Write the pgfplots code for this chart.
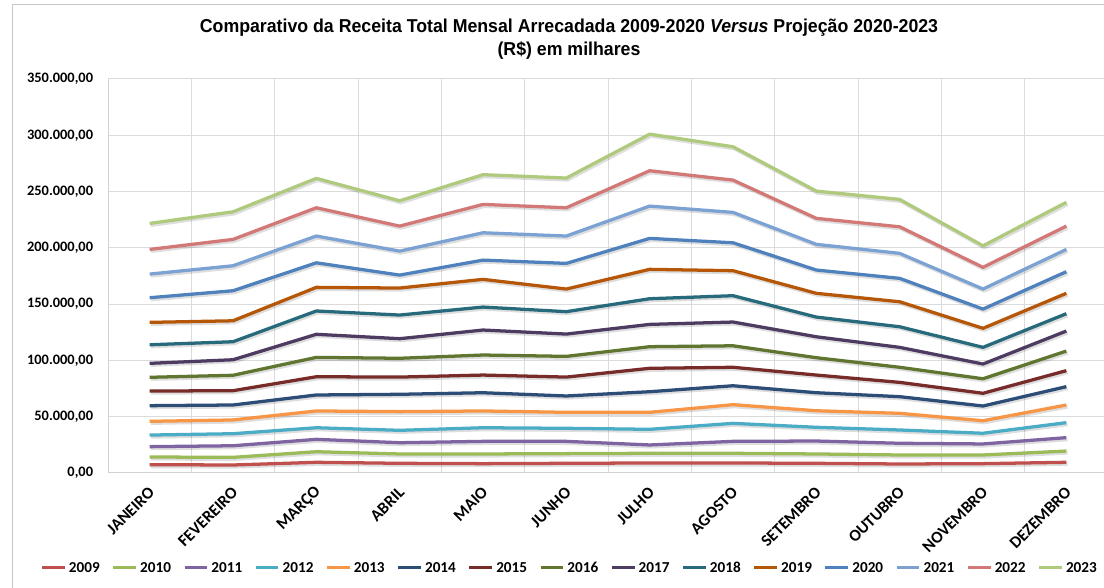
\documentclass[border=0pt]{standalone}
\usepackage{fontspec}
\setmainfont{Carlito}
\newfontfamily\titlefont[FakeStretch=0.95]{Liberation Sans}
\usepackage{pgfplots}
\usepackage{pgfplotstable}
\pgfplotsset{compat=1.18}

\definecolor{c2009}{HTML}{C0504D}
\definecolor{c2010}{HTML}{9BBB59}
\definecolor{c2011}{HTML}{8064A2}
\definecolor{c2012}{HTML}{4BACC6}
\definecolor{c2013}{HTML}{F79646}
\definecolor{c2014}{HTML}{2C4D75}
\definecolor{c2015}{HTML}{772C2A}
\definecolor{c2016}{HTML}{5F7530}
\definecolor{c2017}{HTML}{4D3B62}
\definecolor{c2018}{HTML}{276A7C}
\definecolor{c2019}{HTML}{B65708}
\definecolor{c2020}{HTML}{4F81BD}
\definecolor{c2021}{HTML}{7BA2D2}
\definecolor{c2022}{HTML}{D27876}
\definecolor{c2023}{HTML}{AFCA7C}

\pgfplotstableread{
m  a    b    c    d    e    f    g    h     i     j     k     l     n     o     p
0  7.4  14.2 23.4 33.7 45.9 59.8 72.8 85.0  97.4  113.9 133.8 155.7 176.7 198.6 221.7
1  7.1  13.9 24.2 34.9 47.1 60.4 73.1 86.8  100.6 116.6 135.2 161.9 184.1 207.5 232.0
2  9.5  18.9 29.9 40.2 55.1 69.3 85.5 102.7 123.2 143.9 164.9 186.7 210.5 235.6 261.7
3  8.6  16.9 26.9 37.9 54.5 69.9 85.2 101.9 119.3 140.3 164.3 175.8 197.1 219.3 241.8
4  8.3  16.9 28.1 40.2 55.1 71.3 87.0 104.8 127.0 147.4 172.0 189.1 213.4 238.6 265.0
5  8.6  17.2 28.1 39.7 53.9 68.4 85.2 103.6 123.4 143.3 163.4 186.2 210.5 235.6 262.0
6  8.9  17.5 24.9 38.8 53.9 72.2 93.0 112.2 132.0 154.8 180.9 208.4 237.1 268.5 301.0
7  8.9  17.5 28.1 44.1 60.7 77.5 93.9 113.0 134.1 157.5 179.7 204.5 231.5 260.2 289.8
8  8.6  16.9 28.4 40.6 55.3 71.3 87.0 102.4 121.0 138.5 159.6 180.3 203.1 226.2 250.4
9  8.0  16.0 26.4 38.2 53.0 67.8 80.5 93.9  111.6 129.9 152.1 172.9 195.1 218.7 243.0
10 8.3  16.0 25.8 35.3 46.4 59.5 70.8 83.7  96.8  111.6 128.5 145.6 163.4 182.7 201.8
11 9.5  19.5 31.4 44.7 60.4 76.7 90.9 108.3 126.1 141.5 159.6 178.8 198.6 219.3 240.4
}\data

\newcommand\ser[2]{%
  \addplot[black,opacity=0.13,line width=2.8pt,line join=round,xshift=0.9pt,yshift=-1.3pt,forget plot] table[x=m,y=#1]{\data};
  \addplot[color=#2,line width=2.45pt,line join=round] table[x=m,y=#1]{\data};
}

\begin{document}
\begin{tikzpicture}
\fill[white] (0,0) rectangle (828pt,441pt);
\draw[gray!45, line width=0.75pt] (9pt,0pt) -- (9pt,437.25pt) -- (828pt,437.25pt);
\node[font=\titlefont\bfseries\fontsize{14}{17}\selectfont, anchor=base] at (426.75pt,416.25pt)
  {Comparativo da Receita Total Mensal Arrecadada 2009-2020 \textit{Versus} Projeção 2020-2023};
\node[font=\titlefont\bfseries\fontsize{14}{17}\selectfont, anchor=base] at (426.75pt,399pt)
  {(R\$) em milhares};
\begin{axis}[
  at={(81pt,86.25pt)}, anchor=south west,
  scale only axis, width=747pt, height=295.5pt,
  axis lines*=left,
  xmin=-0.5, xmax=11.452, ymin=0, ymax=350,
  xtick={0,...,11},
  xticklabels={JANEIRO,FEVEREIRO,MARÇO,ABRIL,MAIO,JUNHO,JULHO,AGOSTO,SETEMBRO,OUTUBRO,NOVEMBRO,DEZEMBRO},
  minor xtick={0.5,1.5,...,10.5},
  xminorgrids,
  ytick={0,50,...,350},
  yticklabels={{0,00},{50.000,00},{100.000,00},{150.000,00},{200.000,00},{250.000,00},{300.000,00},{350.000,00}},
  ymajorgrids,
  major grid style={gray!28, line width=0.75pt},
  minor grid style={gray!28, line width=0.75pt},
  axis line style={-, gray!35, line width=0.75pt},
  major tick length=0pt, minor tick length=0pt,
  yticklabel style={font=\bfseries\fontsize{10.8}{12}\selectfont, anchor=east, inner sep=0pt, xshift=-11pt},
  xticklabel style={font=\bfseries\fontsize{12.5}{14}\selectfont, inner sep=0pt, xshift=1.5pt, yshift=-12.5pt, rotate=45, anchor=east},
  legend entries={2009,2010,2011,2012,2013,2014,2015,2016,2017,2018,2019,2020,2021,2022,2023},
  legend style={draw=none, fill=none, at={(0.4639,-0.241)}, anchor=center, legend columns=-1,
    font=\bfseries\fontsize{11.4}{13}\selectfont, inner sep=0pt,
    nodes={text height=8pt, text depth=1pt},
    /tikz/every even column/.append style={column sep=7pt}},
  legend image code/.code={\draw[#1, line width=2.3pt] (0pt,0pt) -- (17pt,0pt);},
]
\ser{a}{c2009}
\ser{b}{c2010}
\ser{c}{c2011}
\ser{d}{c2012}
\ser{e}{c2013}
\ser{f}{c2014}
\ser{g}{c2015}
\ser{h}{c2016}
\ser{i}{c2017}
\ser{j}{c2018}
\ser{k}{c2019}
\ser{l}{c2020}
\ser{n}{c2021}
\ser{o}{c2022}
\ser{p}{c2023}
\end{axis}
\pgfresetboundingbox
\useasboundingbox (0,0) rectangle (828pt,441pt);
\end{tikzpicture}
\end{document}
